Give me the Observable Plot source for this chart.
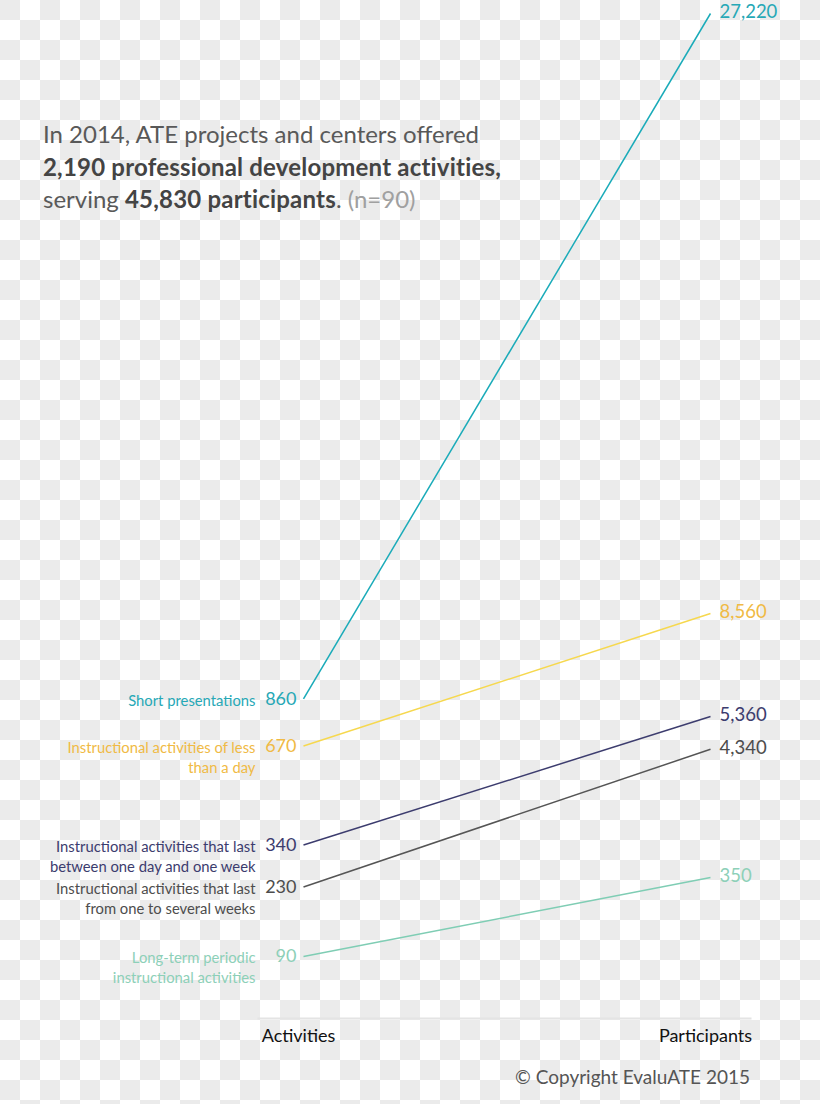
<!DOCTYPE html>
<html>
<head>
<meta charset="utf-8">
<script src="https://cdn.jsdelivr.net/npm/d3@7"></script>
<script src="https://cdn.jsdelivr.net/npm/@observablehq/plot@0.6"></script>
<style>
  html, body { margin: 0; padding: 0; }
  #wrap {
    position: relative; width: 820px; height: 1104px; overflow: hidden;
    background-color: #fff;
    background-image: conic-gradient(#fff 25%, #ebebeb 0 50%, #fff 0 75%, #ebebeb 0);
    background-size: 40px 40px;
    font-family: Lato, "Open Sans", sans-serif;
  }
  #title {
    position: absolute; left: 43px; top: 118px;
    font-size: 24px; line-height: 32.5px; color: #595959;
  }
  #title b { color: #444; font-weight: 700; letter-spacing: 0.2px; }
  #title .n { color: #a0a0a0; }
  #copy {
    position: absolute; right: 70px; top: 1065px;
    font-size: 19px; color: #555;
  }
</style>
</head>
<body>
<div id="wrap">
  <div id="title">In 2014, ATE projects and centers offered<br><b>2,190 professional development activities,</b><br>serving <b>45,830 participants</b>. <span class="n">(n=90)</span></div>
  <div id="copy">© Copyright EvaluATE 2015</div>
</div>
<script>
const categories = [
  "Short presentations",
  "Instructional activities of less\nthan a day",
  "Instructional activities that last\nbetween one day and one week",
  "Instructional activities that last\nfrom one to several weeks",
  "Long-term periodic\ninstructional activities"
];
const activities = [860, 670, 340, 230, 90];
const participants = [27220, 8560, 5360, 4340, 350];
const lineColors = ["#1aabb9", "#f6d84e", "#3c3c6e", "#555555", "#7fcdb4"];
const textColors = ["#26a8b6", "#f0ba45", "#3c3c6e", "#4d4d4d", "#8dd0b8"];
const axisLabels = ["Activities", "Participants"];

// Positions on a shared normalized axis: activities on a power scale, participants on a linear scale
const leftPos = d3.scalePow().exponent(0.57).domain([90, 860]).range([0, 0.2733]);
const rightPos = d3.scaleLinear().domain([350, 27220]).range([0.0837, 1]);

const rows = categories.map((c, i) => ({
  cat: c, act: activities[i], part: participants[i],
  line: lineColors[i], txt: textColors[i],
  yl: leftPos(activities[i]), yr: rightPos(participants[i])
}));

const fmt = d3.format(",");

const chart = Plot.plot({
  width: 820,
  height: 1104,
  marginLeft: 258,
  marginRight: 70,
  marginBottom: 86,
  marginTop: 0,
  style: { background: "transparent", fontFamily: "Lato, 'Open Sans', sans-serif" },
  x: { type: "point", domain: axisLabels, range: [303, 710], padding: 0, label: null },
  y: { domain: [0, 1], range: [956, 13], axis: null },
  color: { type: "identity" },
  marks: [
    Plot.frame({ anchor: "bottom", stroke: "#e4e4e4", strokeWidth: 2 }),
    Plot.axisX({ tickSize: 0, tickPadding: 11, fontSize: 18, color: "#111", label: null, dx: -5 }),
    Plot.link(rows, {
      x1: () => axisLabels[0], y1: "yl",
      x2: () => axisLabels[1], y2: "yr",
      stroke: "line", strokeWidth: 1.5
    }),
    Plot.text(rows, {
      x: () => axisLabels[0], y: "yl", text: d => fmt(d.act),
      fill: "txt", textAnchor: "end", dx: -7, fontSize: 18
    }),
    Plot.text(rows, {
      x: () => axisLabels[0], y: "yl", text: "cat",
      fill: "txt", textAnchor: "end", dx: -48, dy: -7,
      lineAnchor: "top", lineHeight: 1.33, fontSize: 14.8
    }),
    Plot.text(rows, {
      x: () => axisLabels[1], y: "yr", text: d => fmt(d.part),
      fill: "txt", textAnchor: "start", dx: 9, dy: -1, fontSize: 18.5
    })
  ]
});
document.getElementById("wrap").appendChild(chart);
chart.style.position = "absolute";
chart.style.left = "0";
chart.style.top = "0";
</script>
</body>
</html>
